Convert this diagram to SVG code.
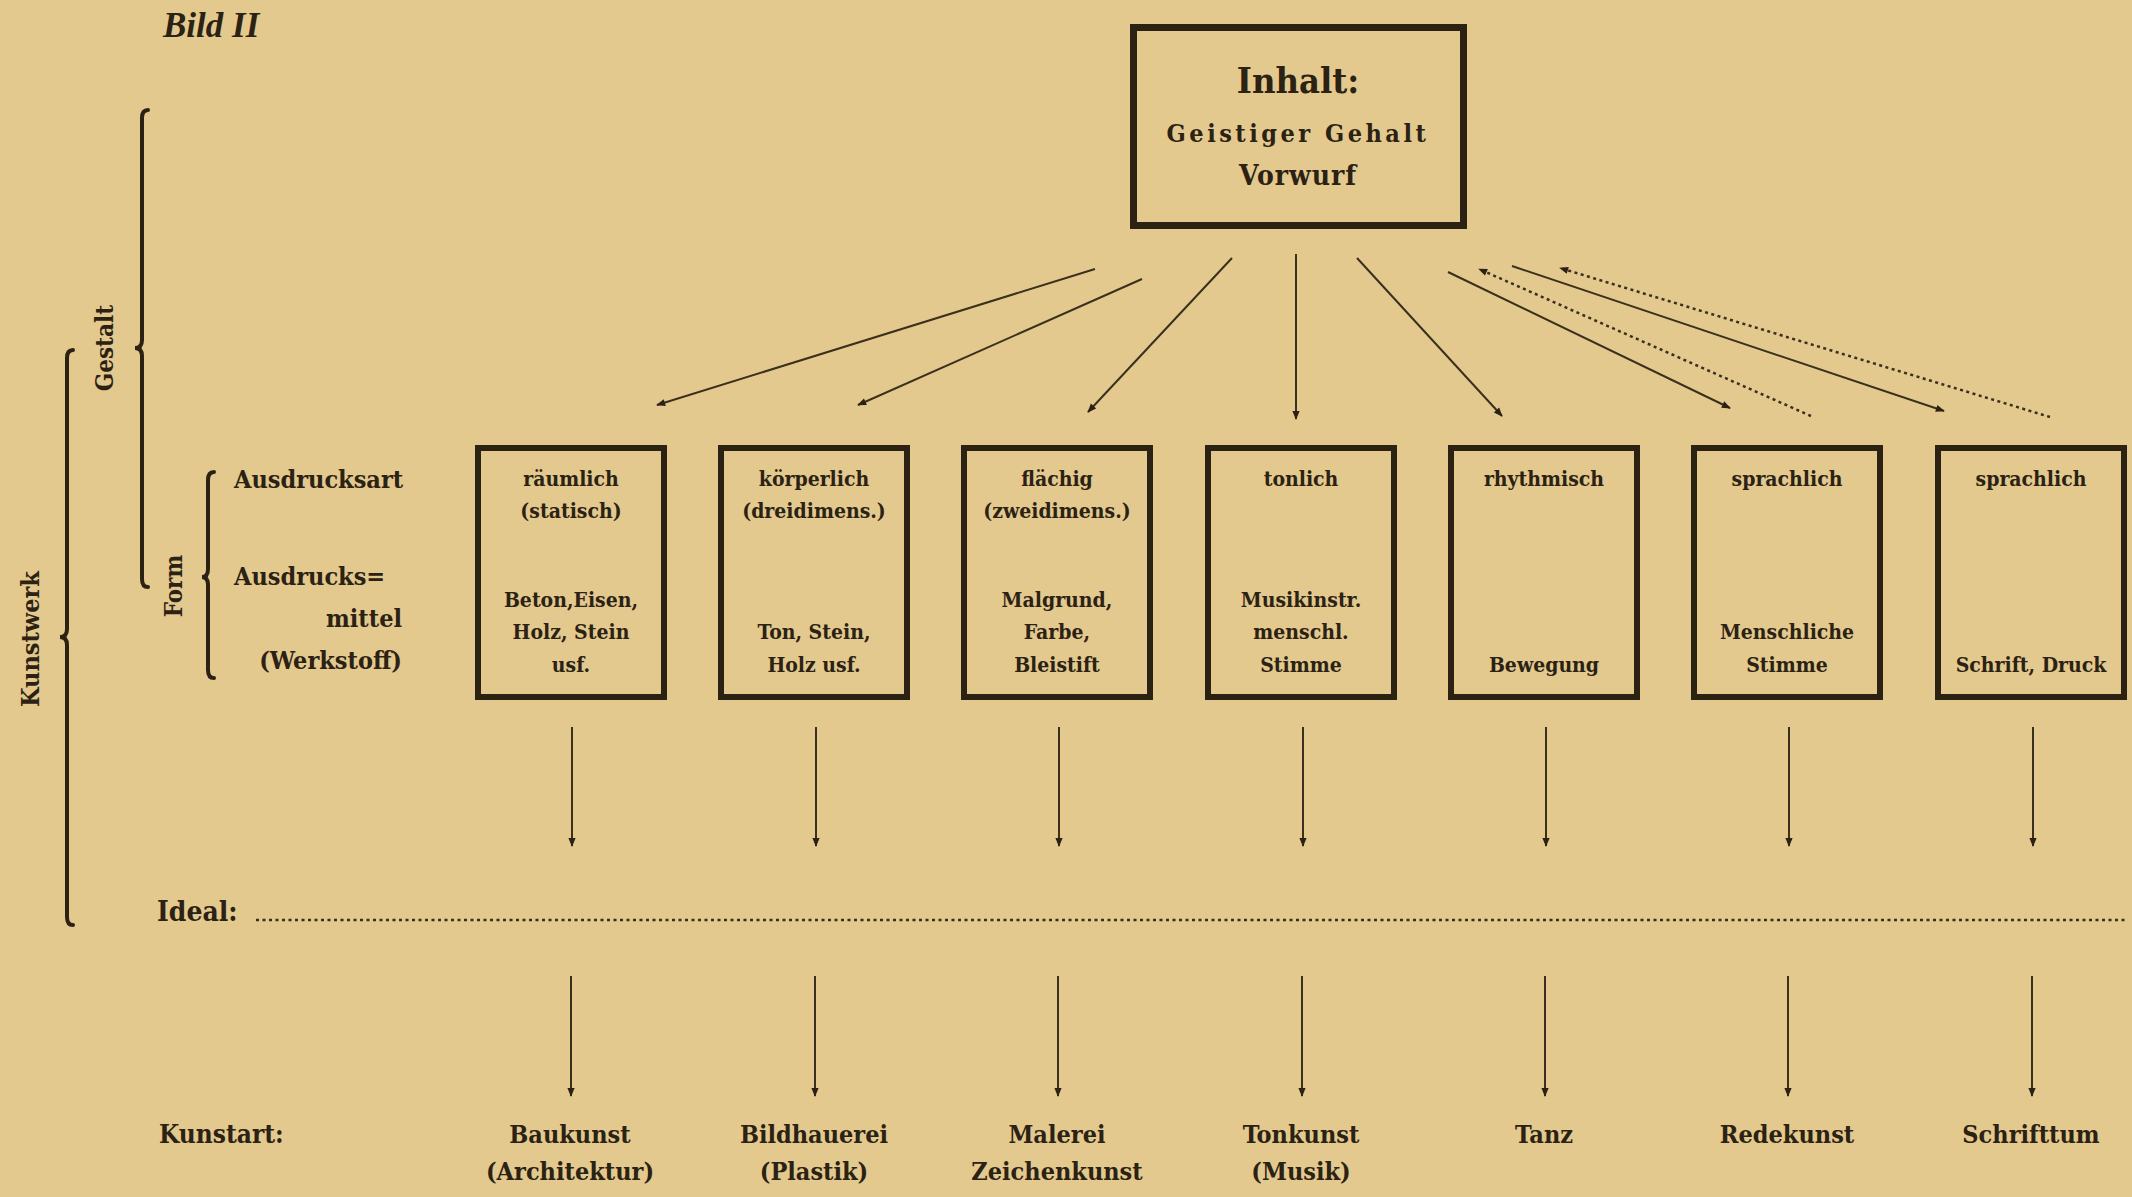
<svg xmlns="http://www.w3.org/2000/svg" width="2132" height="1197" viewBox="0 0 2132 1197">
<defs>
<style>
.t{font-family:"DejaVu Serif Condensed","DejaVu Serif","Liberation Serif",serif;font-weight:bold;fill:#2b2214;}
.bx{font-size:21px;text-anchor:middle;}
.lab{font-size:25px;}
.kl{font-size:25px;text-anchor:middle;}
.box{fill:none;stroke:#2b2214;stroke-width:6;}
.ln{stroke:#3b2f1d;stroke-width:2;fill:none;}
.dot{stroke:#3b2f1d;stroke-width:2.5;fill:none;stroke-dasharray:3 3.5;}
.br{stroke:#2b2214;stroke-width:4;fill:none;stroke-linecap:round;}
</style>
<marker id="ah" viewBox="0 0 10 10" refX="9" refY="5" markerWidth="11" markerHeight="9" markerUnits="userSpaceOnUse" orient="auto">
<path d="M0,1 L10,5 L0,9 Z" fill="#2b2214"/>
</marker>
</defs>
<rect width="2132" height="1197" fill="#e3c98d"/>
<text x="163" y="37" style="font-family:'Liberation Serif',serif;font-style:italic;font-weight:bold;font-size:35px;fill:#2b2214">Bild II</text>

<g id="braces">
<path class="br" d="M148 110 Q142 110 142 118 L142 340 Q142 348 135 348 Q142 348 142 356 L142 579 Q142 587 148 587"/>
<text class="t" style="font-size:24px" text-anchor="middle" transform="translate(113 348) rotate(-90)">Gestalt</text>
<path class="br" d="M73 350 Q67 350 67 358 L67 629 Q67 637 60 637 Q67 637 67 645 L67 917 Q67 925 73 925"/>
<text class="t" style="font-size:25px" text-anchor="middle" transform="translate(39 639) rotate(-90)">Kunstwerk</text>
<path class="br" d="M214 472 Q208 472 208 480 L208 569 Q208 577 202 577 Q208 577 208 585 L208 670 Q208 678 214 678"/>
<text class="t" style="font-size:24px" text-anchor="middle" transform="translate(182 586) rotate(-90)">Form</text>
</g>

<g id="labels">
<text class="t lab" x="234" y="488">Ausdrucksart</text>
<text class="t lab" x="234" y="585">Ausdrucks=</text>
<text class="t lab" x="402" y="627" text-anchor="end">mittel</text>
<text class="t lab" x="402" y="669" text-anchor="end">(Werkstoff)</text>
<text class="t" x="157" y="921" style="font-size:28px">Ideal:</text>
<text class="t" x="159" y="1143" style="font-size:26px">Kunstart:</text>
</g>

<g id="inhalt">
<rect class="box" x="1133.5" y="27.5" width="330" height="198" style="stroke-width:7"/>
<text class="t" x="1298" y="93" text-anchor="middle" style="font-size:36px">Inhalt:</text>
<text class="t" x="1298" y="142" text-anchor="middle" style="font-size:25px;letter-spacing:3.5px">Geistiger Gehalt</text>
<text class="t" x="1298" y="185" text-anchor="middle" style="font-size:28px;letter-spacing:1px">Vorwurf</text>
</g>

<g id="box1">
<rect class="box" x="478" y="448" width="186" height="249"/>
<text class="t bx" x="571" y="486">räumlich</text>
<text class="t bx" x="571" y="518">(statisch)</text>
<text class="t bx" x="571" y="607">Beton,Eisen,</text>
<text class="t bx" x="571" y="639">Holz, Stein</text>
<text class="t bx" x="571" y="672">usf.</text>
</g>
<g id="box2">
<rect class="box" x="721" y="448" width="186" height="249"/>
<text class="t bx" x="814" y="486">körperlich</text>
<text class="t bx" x="814" y="518">(dreidimens.)</text>
<text class="t bx" x="814" y="639">Ton, Stein,</text>
<text class="t bx" x="814" y="672">Holz usf.</text>
</g>
<g id="box3">
<rect class="box" x="964" y="448" width="186" height="249"/>
<text class="t bx" x="1057" y="486">flächig</text>
<text class="t bx" x="1057" y="518">(zweidimens.)</text>
<text class="t bx" x="1057" y="607">Malgrund,</text>
<text class="t bx" x="1057" y="639">Farbe,</text>
<text class="t bx" x="1057" y="672">Bleistift</text>
</g>
<g id="box4">
<rect class="box" x="1208" y="448" width="186" height="249"/>
<text class="t bx" x="1301" y="486">tonlich</text>
<text class="t bx" x="1301" y="607">Musikinstr.</text>
<text class="t bx" x="1301" y="639">menschl.</text>
<text class="t bx" x="1301" y="672">Stimme</text>
</g>
<g id="box5">
<rect class="box" x="1451" y="448" width="186" height="249"/>
<text class="t bx" x="1544" y="486">rhythmisch</text>
<text class="t bx" x="1544" y="672">Bewegung</text>
</g>
<g id="box6">
<rect class="box" x="1694" y="448" width="186" height="249"/>
<text class="t bx" x="1787" y="486">sprachlich</text>
<text class="t bx" x="1787" y="639">Menschliche</text>
<text class="t bx" x="1787" y="672">Stimme</text>
</g>
<g id="box7">
<rect class="box" x="1938" y="448" width="186" height="249"/>
<text class="t bx" x="2031" y="486">sprachlich</text>
<text class="t bx" x="2031" y="672">Schrift, Druck</text>
</g>

<g id="kunstarten">
<text class="t kl" x="570" y="1143">Baukunst</text>
<text class="t kl" x="570" y="1180">(Architektur)</text>
<text class="t kl" x="814" y="1143">Bildhauerei</text>
<text class="t kl" x="814" y="1180">(Plastik)</text>
<text class="t kl" x="1057" y="1143">Malerei</text>
<text class="t kl" x="1057" y="1180">Zeichenkunst</text>
<text class="t kl" x="1301" y="1143">Tonkunst</text>
<text class="t kl" x="1301" y="1180">(Musik)</text>
<text class="t kl" x="1544" y="1143">Tanz</text>
<text class="t kl" x="1787" y="1143">Redekunst</text>
<text class="t kl" x="2031" y="1143">Schrifttum</text>
</g>

<g id="connectors">
<line class="ln" x1="1095" y1="269" x2="657" y2="405" marker-end="url(#ah)"/>
<line class="ln" x1="1142" y1="279" x2="858" y2="405" marker-end="url(#ah)"/>
<line class="ln" x1="1232" y1="258" x2="1088" y2="412" marker-end="url(#ah)"/>
<line class="ln" x1="1296" y1="254" x2="1296" y2="419" marker-end="url(#ah)"/>
<line class="ln" x1="1357" y1="258" x2="1502" y2="416" marker-end="url(#ah)"/>
<line class="ln" x1="1448" y1="272" x2="1730" y2="408" marker-end="url(#ah)"/>
<line class="dot" x1="1811" y1="416" x2="1479" y2="269" marker-end="url(#ah)"/>
<line class="ln" x1="1512" y1="266" x2="1944" y2="411" marker-end="url(#ah)"/>
<line class="dot" x1="2050" y1="417" x2="1560" y2="268" marker-end="url(#ah)"/>

<line class="ln" x1="572" y1="727" x2="572" y2="846" marker-end="url(#ah)"/>
<line class="ln" x1="816" y1="727" x2="816" y2="846" marker-end="url(#ah)"/>
<line class="ln" x1="1059" y1="727" x2="1059" y2="846" marker-end="url(#ah)"/>
<line class="ln" x1="1303" y1="727" x2="1303" y2="846" marker-end="url(#ah)"/>
<line class="ln" x1="1546" y1="727" x2="1546" y2="846" marker-end="url(#ah)"/>
<line class="ln" x1="1789" y1="727" x2="1789" y2="846" marker-end="url(#ah)"/>
<line class="ln" x1="2033" y1="727" x2="2033" y2="846" marker-end="url(#ah)"/>

<line class="dot" x1="256" y1="920" x2="2128" y2="920"/>

<line class="ln" x1="571" y1="976" x2="571" y2="1096" marker-end="url(#ah)"/>
<line class="ln" x1="815" y1="976" x2="815" y2="1096" marker-end="url(#ah)"/>
<line class="ln" x1="1058" y1="976" x2="1058" y2="1096" marker-end="url(#ah)"/>
<line class="ln" x1="1302" y1="976" x2="1302" y2="1096" marker-end="url(#ah)"/>
<line class="ln" x1="1545" y1="976" x2="1545" y2="1096" marker-end="url(#ah)"/>
<line class="ln" x1="1788" y1="976" x2="1788" y2="1096" marker-end="url(#ah)"/>
<line class="ln" x1="2032" y1="976" x2="2032" y2="1096" marker-end="url(#ah)"/>
</g>
</svg>
